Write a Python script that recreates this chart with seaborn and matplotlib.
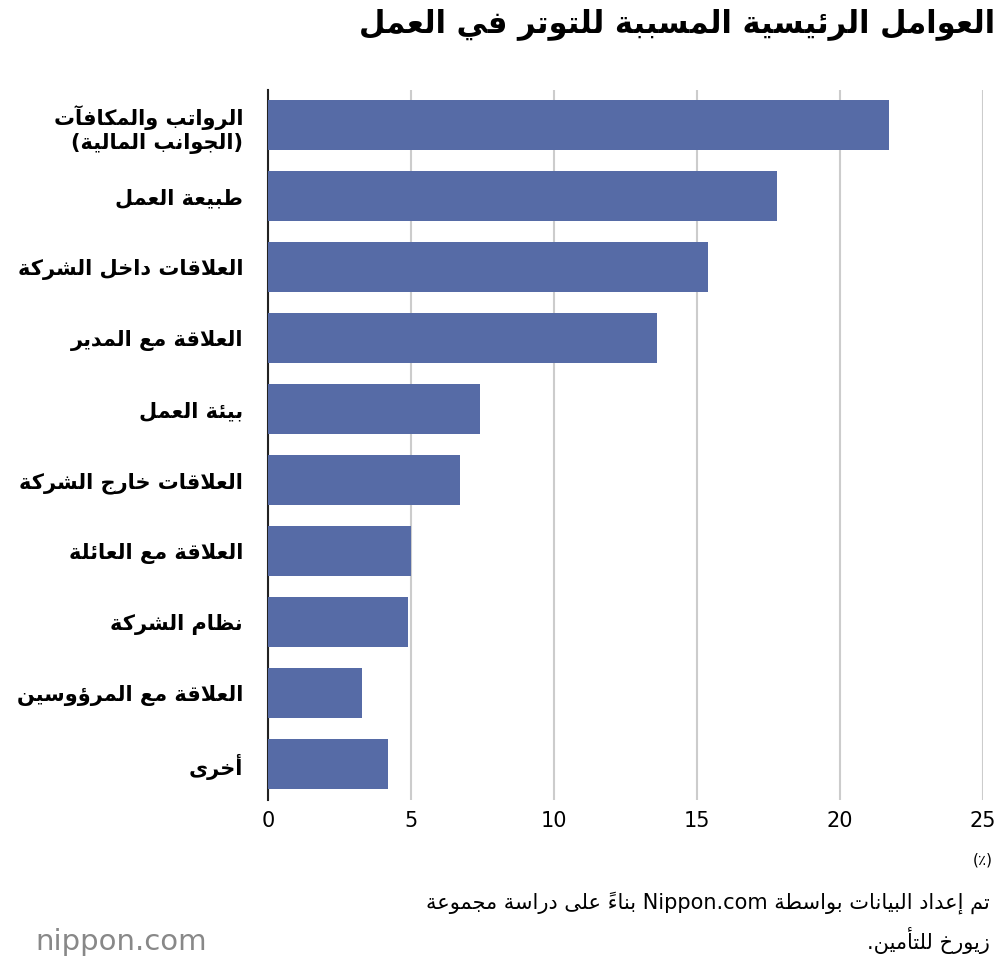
import matplotlib
matplotlib.use("Agg")
import matplotlib.pyplot as plt
import seaborn as sns
import pandas as pd

categories = ["الرواتب والمكافآت\n(الجوانب المالية)", "طبيعة العمل", "العلاقات داخل الشركة",
              "العلاقة مع المدير", "بيئة العمل", "العلاقات خارج الشركة", "العلاقة مع العائلة",
              "نظام الشركة", "العلاقة مع المرؤوسين", "أخرى"]
values = [21.7, 17.8, 15.4, 13.6, 7.4, 6.7, 5.0, 4.9, 3.3, 4.2]
xticks = [0, 5, 10, 15, 20, 25]
title = "العوامل الرئيسية المسببة للتوتر في العمل"
unit = "(٪)"
source = "تم إعداد البيانات بواسطة Nippon.com بناءً على دراسة مجموعة\nزيورخ للتأمين."

# --- minimal Arabic shaper ---
FORMS = {
 'ء':(0xFE80,), 'آ':(0xFE81,0xFE82), 'أ':(0xFE83,0xFE84), 'ؤ':(0xFE85,0xFE86), 'إ':(0xFE87,0xFE88),
 'ئ':(0xFE89,0xFE8A,0xFE8B,0xFE8C), 'ا':(0xFE8D,0xFE8E), 'ب':(0xFE8F,0xFE90,0xFE91,0xFE92),
 'ة':(0xFE93,0xFE94), 'ت':(0xFE95,0xFE96,0xFE97,0xFE98), 'ث':(0xFE99,0xFE9A,0xFE9B,0xFE9C),
 'ج':(0xFE9D,0xFE9E,0xFE9F,0xFEA0), 'ح':(0xFEA1,0xFEA2,0xFEA3,0xFEA4), 'خ':(0xFEA5,0xFEA6,0xFEA7,0xFEA8),
 'د':(0xFEA9,0xFEAA), 'ذ':(0xFEAB,0xFEAC), 'ر':(0xFEAD,0xFEAE), 'ز':(0xFEAF,0xFEB0),
 'س':(0xFEB1,0xFEB2,0xFEB3,0xFEB4), 'ش':(0xFEB5,0xFEB6,0xFEB7,0xFEB8), 'ص':(0xFEB9,0xFEBA,0xFEBB,0xFEBC),
 'ض':(0xFEBD,0xFEBE,0xFEBF,0xFEC0), 'ط':(0xFEC1,0xFEC2,0xFEC3,0xFEC4), 'ظ':(0xFEC5,0xFEC6,0xFEC7,0xFEC8),
 'ع':(0xFEC9,0xFECA,0xFECB,0xFECC), 'غ':(0xFECD,0xFECE,0xFECF,0xFED0), 'ف':(0xFED1,0xFED2,0xFED3,0xFED4),
 'ق':(0xFED5,0xFED6,0xFED7,0xFED8), 'ك':(0xFED9,0xFEDA,0xFEDB,0xFEDC), 'ل':(0xFEDD,0xFEDE,0xFEDF,0xFEE0),
 'م':(0xFEE1,0xFEE2,0xFEE3,0xFEE4), 'ن':(0xFEE5,0xFEE6,0xFEE7,0xFEE8), 'ه':(0xFEE9,0xFEEA,0xFEEB,0xFEEC),
 'و':(0xFEED,0xFEEE), 'ى':(0xFEEF,0xFEF0), 'ي':(0xFEF1,0xFEF2,0xFEF3,0xFEF4),
}
LAMALEF = {'آ':(0xFEF5,0xFEF6), 'أ':(0xFEF7,0xFEF8), 'إ':(0xFEF9,0xFEFA), 'ا':(0xFEFB,0xFEFC)}
DIAC = set(chr(c) for c in range(0x064B, 0x0653))

def shape_line(s):
    # tokens: (char, kind) kind: letter / lamalef / other
    toks = []
    i = 0
    while i < len(s):
        c = s[i]
        if c == 'ل' and i + 1 < len(s) and s[i+1] in LAMALEF:
            toks.append(('LA', s[i+1])); i += 2; continue
        toks.append(('C', c)); i += 1
    def is_letter(t):
        return (t[0] == 'LA') or (t[1] in FORMS)
    def dual(t):
        return t[0] == 'C' and t[1] in FORMS and len(FORMS[t[1]]) == 4
    out = []
    n = len(toks)
    for k, t in enumerate(toks):
        if not is_letter(t):
            out.append(t[1]); continue
        p = k - 1
        while p >= 0 and toks[p][0] == 'C' and toks[p][1] in DIAC: p -= 1
        q = k + 1
        while q < n and toks[q][0] == 'C' and toks[q][1] in DIAC: q += 1
        jp = p >= 0 and dual(toks[p])
        jn = q < n and is_letter(toks[q]) and dual(t)
        if t[0] == 'LA':
            f = LAMALEF[t[1]]
            out.append(chr(f[1] if jp else f[0])); continue
        f = FORMS[t[1]]
        if len(f) == 1: out.append(chr(f[0]))
        elif len(f) == 2: out.append(chr(f[1] if jp else f[0]))
        else:
            if jp and jn: out.append(chr(f[3]))
            elif jp: out.append(chr(f[1]))
            elif jn: out.append(chr(f[2]))
            else: out.append(chr(f[0]))
    # visual reorder: reverse, keeping latin runs intact
    runs, cur, curlat = [], "", None
    for ch in out:
        lat = ch.isascii() and (ch.isalnum() or ch == '.')
        if curlat is None or lat == curlat or (ch == ' ' and False):
            cur += ch; curlat = lat if curlat is None else curlat
        else:
            runs.append((cur, curlat)); cur, curlat = ch, lat
    if cur: runs.append((cur, curlat))
    mirror = {'(': ')', ')': '('}
    res = ""
    for r, lat in reversed(runs):
        res += r if lat else "".join(mirror.get(c, c) for c in reversed(r))
    return res

def shape(s):
    return "\n".join(shape_line(l) for l in s.split("\n"))

df = pd.DataFrame({"cat": [shape(c) for c in categories], "val": values})

plt.rcParams["font.family"] = "DejaVu Sans"
fig = plt.figure(figsize=(10, 9.66), dpi=100)
ax = fig.add_axes([0.268, 0.172, 0.715, 0.735])
sns.barplot(data=df, x="val", y="cat", color="#566ba6", saturation=1, width=0.7, ax=ax, zorder=3)
ax.set_xlim(0, 25)
ax.set_xticks(xticks)
ax.set_xticklabels([str(t) for t in xticks], fontsize=15)
ax.grid(axis="x", color="#cccccc", lw=1.5, zorder=0)
ax.set_axisbelow(True)
for s in ["top", "right", "bottom"]:
    ax.spines[s].set_visible(False)
ax.spines["left"].set_color("#222222")
ax.spines["left"].set_linewidth(1.5)
ax.tick_params(axis="y", length=0, pad=18, labelsize=15)
ax.tick_params(axis="x", length=0, pad=8)
for lab in ax.get_yticklabels():
    lab.set_fontweight("bold")
    lab.set_horizontalalignment("right")
    lab.set_multialignment("right")
ax.set_xlabel(""); ax.set_ylabel("")

fig.text(0.995, 0.975, shape(title), ha="right", va="center", fontsize=22, fontweight="bold")
fig.text(0.983, 0.11, shape(unit), ha="center", va="center", fontsize=11)
fig.text(0.99, 0.045, shape(source), ha="right", va="center", fontsize=15, multialignment="right", linespacing=1.6)
fig.text(0.035, 0.025, "nippon.com", ha="left", va="center", fontsize=21, color="#888888")
fig.savefig("out.png", dpi=100, facecolor="white")
